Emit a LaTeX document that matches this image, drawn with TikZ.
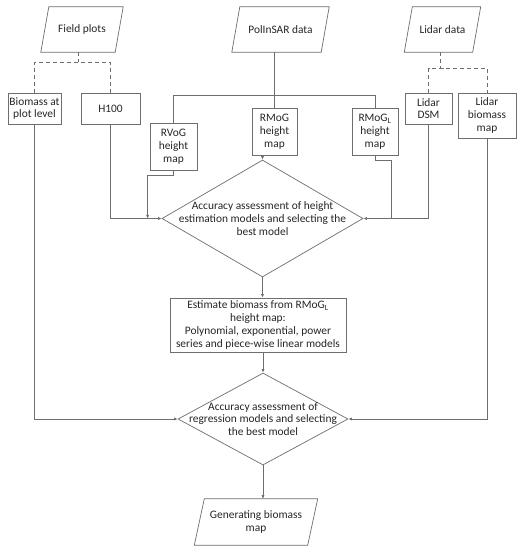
\documentclass[tikz,border=0pt]{standalone}
\usepackage{fontspec}
\setmainfont{Carlito}
\usetikzlibrary{shapes.geometric,calc,arrows.meta}
\definecolor{linec}{HTML}{6E6E6E}
\definecolor{txtc}{HTML}{262626}
\newcommand\parabox[2]{\draw[line] ($(#1.south west)+(-#2,0)$) -- ($(#1.north west)+(#2,0)$) -- ($(#1.north east)+(#2,0)$) -- ($(#1.south east)+(-#2,0)$) -- cycle;}
\begin{document}
\begin{tikzpicture}[x=1pt,y=-1pt,
  line/.style={draw=linec, line width=0.7pt},
  txt/.style={inner sep=0pt, align=center, text=txtc, font=\fontsize{11.4}{12.8}\selectfont},
  box/.style={txt, line, rectangle},
  io/.style={txt, rectangle},
  dia/.style={line, diamond, inner sep=0pt},
  arr/.style={line, -{Latex[length=3.6pt,width=3.2pt]}},
  dashln/.style={line, dash pattern=on 4pt off 3pt}]
\fill[white] (0,0) rectangle (522,550);
\useasboundingbox (0,0) rectangle (522,550);

% inputs
\node[io, minimum width=74, minimum height=45] (field) at (82,29.5) {Field plots};
\parabox{field}{4}
\node[io, minimum width=89, minimum height=45] (polin) at (280.5,29.5) {PolInSAR data};
\parabox{polin}{4}
\node[io, minimum width=68, minimum height=45] (lidar) at (442.5,29.5) {Lidar data};
\parabox{lidar}{4}

% boxes
\node[box, minimum width=53, minimum height=31] (bio) at (34.5,108.5) {Biomass at\\plot level};
\node[box, minimum width=59, minimum height=31] (h100) at (110.5,108.5) {H100};
\node[box, minimum width=47, minimum height=47] (rvog) at (173.5,146.5) {RVoG\\height\\map};
\node[box, minimum width=45, minimum height=47] (rmog) at (274.5,131.5) {RMoG\\height\\map};
\node[box, minimum width=46, minimum height=47] (rmogl) at (375,131.5) {RMoG\textsubscript{L}\\height\\map};
\node[box, minimum width=47, minimum height=31] (dsm) at (428.5,108.5) {Lidar\\DSM};
\node[box, minimum width=58, minimum height=45] (lbio) at (487,115.5) {Lidar\\biomass\\map};

% diamonds and process
\node[dia, minimum width=201, minimum height=117] (d1) at (262.5,218.5) {};
\node[txt] at (d1.center) {Accuracy assessment of height\\estimation models and selecting the\\best model};
\node[box, minimum width=176, minimum height=54] (est) at (258,325) {Estimate biomass from RMoG\textsubscript{L}\\height map:\\Polynomial, exponential, power\\series and piece-wise linear models};
\node[dia, minimum width=170, minimum height=92] (d2) at (263,419) {};
\node[txt] at (d2.center) {Accuracy assessment of\\regression models and selecting\\the best model};
\node[io, minimum width=113, minimum height=46] (out) at (256,522) {Generating biomass\\map};
\parabox{out}{5}

% dashed splits
\draw[dashln] ($(field.south)+(-4,0)$) -- ++(0,10);
\draw[dashln] (bio.north) |- ($(field.south)+(0,10)$) -| (h100.north);
\draw[dashln] ($(lidar.south)+(-2,0)$) -- ++(0,16);
\draw[dashln] (dsm.north) |- ($(lidar.south)+(0,16)$) -| (lbio.north);

% PolInSAR branches
\coordinate (bar) at (0,95);
\draw[line] (rvog.north) |- (bar -| rmogl.north) -- (rmogl.north);
\draw[line] (rmog.north) -- (rmog.north |- polin.south);

% into first diamond
\draw[arr] (h100.south) |- (d1.west);
\draw[arr] (dsm.south) |- (d1.east);
\draw[arr] (rvog.south) -- ++(0,5) -| ($(d1.west)+(-14,0)$);
\draw[line] (rmogl.south) -- ++(0,5) -| ($(d1.east)+(28,0)$);
\draw[arr] (d1.north |- rmog.south) -- (d1.north);

% main flow
\draw[arr] (d1.south) -- (d1.south |- est.north);
\draw[arr] (d2.north |- est.south) -- (d2.north);
\draw[arr] (bio.south) |- (d2.west);
\draw[arr] (lbio.south) |- (d2.east);
\draw[arr] (d2.south) -- (d2.south |- out.north);
\end{tikzpicture}
\end{document}
